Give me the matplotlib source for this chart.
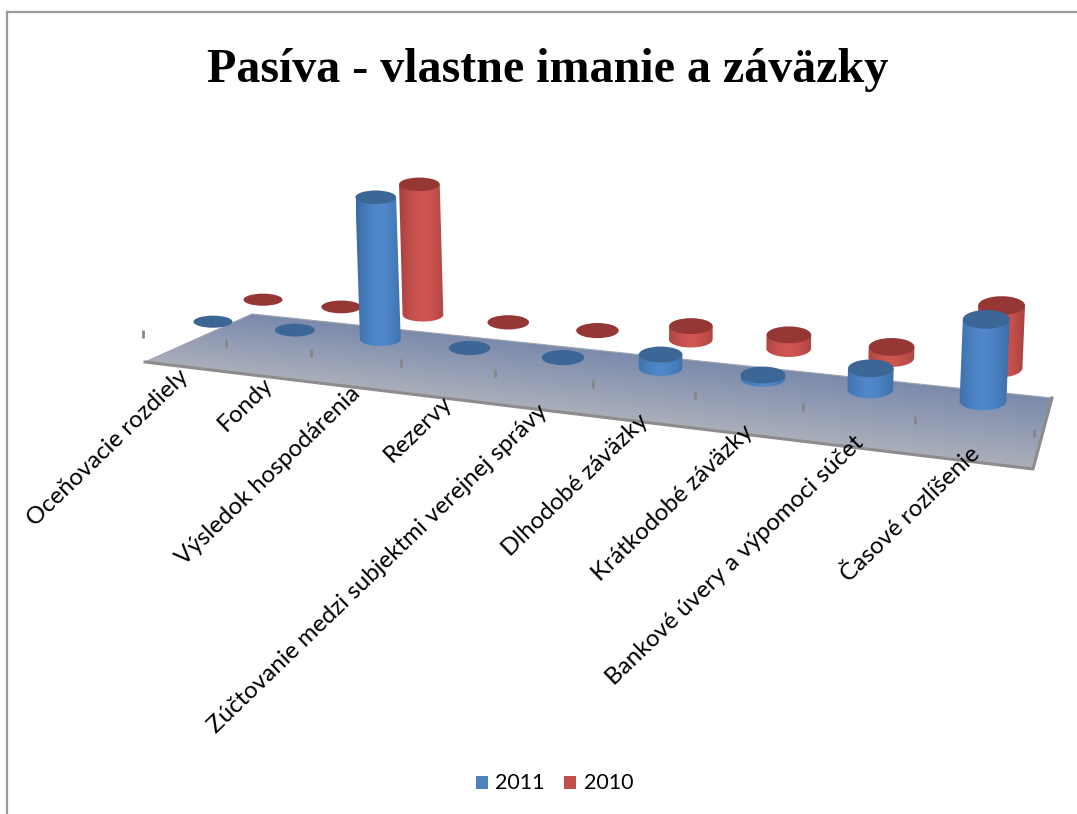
import numpy as np
import matplotlib
matplotlib.use('Agg')
import matplotlib.pyplot as plt
from matplotlib.patches import Polygon, Ellipse, Rectangle

categories = ['Oceňovacie rozdiely', 'Fondy', 'Výsledok hospodárenia', 'Rezervy',
              'Zúčtovanie medzi subjektmi verejnej správy', 'Dlhodobé záväzky',
              'Krátkodobé záväzky', 'Bankové úvery a výpomoci súčet', 'Časové rozlíšenie']
values_2011 = [0.3, 0.3, 136, 0.3, 0.3, 12, 3, 18, 68]
values_2010 = [0.3, 0.3, 125, 0.3, 0.3, 12, 12, 9.5, 52]

BLUE = {'edge': '#3a6ba3', 'mid': '#5088cb', 'top': '#3b6696'}
RED = {'edge': '#a63f3c', 'mid': '#d05653', 'top': '#953735'}
PERSP = -0.167
FLOOR = [(252, 314), (1052, 398), (1033, 469), (145, 362)]

# where each row of the chart runs on screen (first category, last category)
ROW_2011 = ((213, 322), (983, 401))
ROW_2010 = ((263, 300), (999, 368))
ROW_TICKS = ((184, 338.5), (974, 426.5))
ROW_LABELS = ((185, 373), (976, 451))


def row_point(row, u):
    (x0, y0), (x1, y1) = row
    w = 1 + PERSP * u
    x = (x0 + (x1 * (1 + PERSP) - x0) * u) / w
    y = (y0 + (y1 * (1 + PERSP) - y0) * u) / w
    return x, y


def gradient(colors, n=64):
    t = np.linspace(0, 1, n)
    shade = 1 - np.abs(2 * t - 1) ** 1.6
    a = np.array(matplotlib.colors.to_rgb(colors['edge']))
    b = np.array(matplotlib.colors.to_rgb(colors['mid']))
    return (a + (b - a) * shade[:, None])[None, :, :]


def cylinder(ax, row, i, value, colors):
    u = i / (len(categories) - 1)
    persp = 1 / (1 + PERSP * u)
    x, y = row_point(row, u)
    h = value * persp
    r = 19.5 * persp
    ry = r * (0.31 + 0.09 * u)
    xt = x + (x - 650) * 1.2e-4 * h
    yt = y - h
    if h > 1:
        a = np.linspace(0, np.pi, 40)
        bottom = np.c_[x + r * np.cos(a), y + ry * np.sin(a)]
        top = np.c_[(xt - r * np.cos(a)), np.full(40, yt)]
        side = Polygon(np.r_[bottom, top], closed=True, fc='none', ec='none')
        ax.add_patch(side)
        im = ax.imshow(gradient(colors), extent=(x - r - 4, x + r + 4, y + ry + 1, yt - 1),
                       aspect='auto', interpolation='bilinear', zorder=ax.zo)
        im.set_clip_path(side)
        ax.zo += 1
    ax.add_patch(Ellipse((xt, yt), 2 * r, 2 * ry, fc=colors['top'], ec='none', zorder=ax.zo))
    ax.zo += 1


fig = plt.figure(figsize=(10.77, 8.14), dpi=100)
ax = fig.add_axes([0, 0, 1, 1])
ax.axis('off')
ax.zo = 5

# frame, only left and top are in the crop
ax.plot([7, 7], [814, 12], color='#9a9a9a', lw=1.6)
ax.plot([7, 1077], [12, 12], color='#9a9a9a', lw=1.6)

# floor
gx, gy = np.meshgrid(np.linspace(140, 1056, 200), np.linspace(310, 474, 100))
yb = 314 + (gx - 252) * 84 / 800
yf = 362 + (gx - 145) * 107 / 888
t = np.clip((gy - yb) / (yf - yb), 0, 1)[:, :, None]
back = np.array(matplotlib.colors.to_rgb('#7b8aac'))
front = np.array(matplotlib.colors.to_rgb('#abafbb'))
floor = Polygon(FLOOR, closed=True, fc='none', ec='#a0a3ad', lw=0.8, zorder=2)
ax.add_patch(floor)
im = ax.imshow(back + (front - back) * t, extent=(140, 1056, 474, 310), aspect='auto',
               interpolation='bilinear', zorder=1)
im.set_clip_path(floor)
ax.plot([FLOOR[3][0], FLOOR[2][0], FLOOR[1][0]], [FLOOR[3][1], FLOOR[2][1], FLOOR[1][1]],
        color='#8c8c8c', lw=2.2, zorder=2)

# ticks
for k in range(len(categories) + 1):
    tx, ty = row_point(ROW_TICKS, (k - 0.5) / (len(categories) - 1))
    ax.plot([tx, tx], [ty - 4, ty + 4], color='#868686', lw=2, zorder=3, solid_capstyle='butt')

# red row sits behind the blue one
for i, v in enumerate(values_2010):
    cylinder(ax, ROW_2010, i, v, RED)
for i, v in enumerate(values_2011):
    cylinder(ax, ROW_2011, i, v, BLUE)

# labels
for i, name in enumerate(categories):
    lx, ly = row_point(ROW_LABELS, i / (len(categories) - 1))
    ax.text(lx, ly, name, rotation=44, rotation_mode='anchor', ha='right', va='center',
            family='Lato', fontsize=17.4, color='black', zorder=60)

ax.text(548, 82, 'Pasíva - vlastne imanie a záväzky', family='Liberation Serif', weight='bold',
        fontsize=34.6, ha='center', va='baseline', color='black')

# legend
ax.add_patch(Rectangle((476, 776), 12, 13, fc='#4f81bd', ec='none'))
ax.text(495, 783, '2011', family='Lato', fontsize=15.5, va='center', ha='left')
ax.add_patch(Rectangle((564, 776), 12, 13, fc='#c0504d', ec='none'))
ax.text(584, 783, '2010', family='Lato', fontsize=15.5, va='center', ha='left')

ax.set_xlim(0, 1077)
ax.set_ylim(814, 0)
fig.savefig('out.png', dpi=100, facecolor='white')
